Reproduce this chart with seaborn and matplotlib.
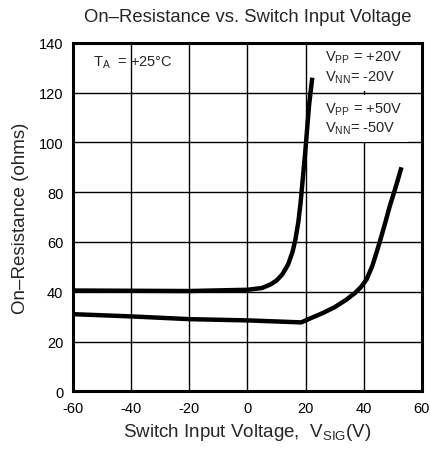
import numpy as np
import pandas as pd
import matplotlib
matplotlib.use("Agg")
import matplotlib.pyplot as plt
import seaborn as sns

# ============================================
# DATA
# ============================================
v_sig_20 = [-60, -40, -20, 0, 5, 8, 10, 12, 14, 15.5, 16.5, 17.5, 18.3,
            19.0, 19.8, 20.5, 21.2, 22.3]
r_on_20 = [40.5, 40.4, 40.3, 40.8, 41.5, 43, 44.5, 47, 51, 56, 61, 68, 76,
           85, 95, 105, 115, 126]

v_sig_50 = [-60, -40, -20, 0, 18.5, 22, 26, 30, 34, 37, 39, 41, 43, 45,
            47, 49, 51, 53]
r_on_50 = [31, 30.1, 29, 28.5, 27.7, 29.5, 31.5, 33.8, 36.8, 39.5, 41.8,
           45, 50.5, 58, 66, 74.5, 82, 90]

df = pd.concat([
    pd.DataFrame({"v": v_sig_20, "r": r_on_20, "supply": "20V"}),
    pd.DataFrame({"v": v_sig_50, "r": r_on_50, "supply": "50V"}),
])

x_ticks = [-60, -40, -20, 0, 20, 40, 60]
y_ticks = [0, 20, 40, 60, 80, 100, 120, 140]

# ============================================
# PLOT
# ============================================
sns.set_style("white")
plt.rcParams["font.family"] = ["Liberation Sans", "DejaVu Sans"]
plt.rcParams["axes.unicode_minus"] = False

fig = plt.figure(figsize=(4.30, 4.52), dpi=100)
ax = fig.add_axes([0.170, 0.132, 0.811, 0.771])

sns.lineplot(data=df, x="v", y="r", units="supply", estimator=None,
             color="black", linewidth=3.2, sort=False, ax=ax, zorder=5,
             solid_joinstyle="round", solid_capstyle="butt")

ax.set_xlim(-60, 60)
ax.set_ylim(0, 140)
ax.set_xticks(x_ticks)
ax.set_yticks(y_ticks)
ax.grid(True, color="black", linewidth=1.0)
ax.set_axisbelow(True)
for s in ax.spines.values():
    s.set_color("black")
    s.set_linewidth(2.2)
    s.set_zorder(4)
ax.tick_params(length=0, labelsize=10.5, pad=7, colors="black")

ax.set_title("On\u2013Resistance vs. Switch Input Voltage", fontsize=13.3, pad=16)
ax.set_xlabel("Switch Input Voltage,  V$_{\\mathregular{SIG}}$(V)", fontsize=13.5, labelpad=4)
ax.set_ylabel("On\u2013Resistance (ohms)", fontsize=13.5, labelpad=7)

# white boxes hide the 40 V gridline behind the supply labels
box = dict(facecolor="white", edgecolor="none", pad=4)
ax.text(-53, 132.5, "T$_{\\mathregular{A}}$  = +25\u00b0C", fontsize=10.5,
        va="center", ha="left", zorder=3)
ax.text(26.8, 130.3, "V$_{\\mathregular{PP}}$ = +20V\nV$_{\\mathregular{NN}}$= -20V",
        fontsize=10.5, va="center", ha="left", linespacing=1.25, bbox=box, zorder=2)
ax.text(26.8, 109.7, "V$_{\\mathregular{PP}}$ = +50V\nV$_{\\mathregular{NN}}$= -50V",
        fontsize=10.5, va="center", ha="left", linespacing=1.25, bbox=box, zorder=2)

plt.savefig("out.png", dpi=100)
plt.close()
